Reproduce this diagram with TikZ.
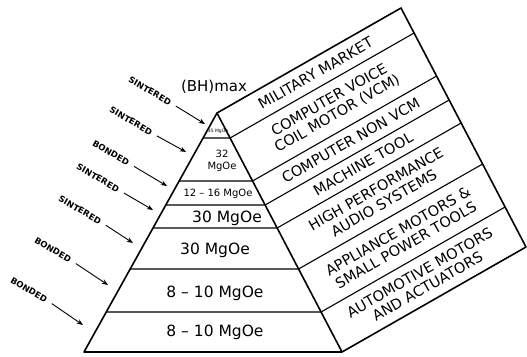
\documentclass[tikz,border=0pt]{standalone}
\usepackage{fontspec}
\setmainfont{DejaVu Sans}
\usetikzlibrary{arrows.meta,calc}

\begin{document}
\begin{tikzpicture}[
  x=1pt, y=-1pt,
  outline/.style={line width=1.6pt, line join=round},
  tier/.style={line width=1.1pt},
  grade/.style={font=\fontsize{15.5}{16}\selectfont, inner sep=0pt},
  smallgrade/.style={font=\fontsize{10}{12.5}\selectfont, inner sep=0pt, align=center},
  market/.style={font=\fontsize{14.5}{16}\selectfont, rotate=29.7, align=center, inner sep=0pt},
  method/.style={font=\bfseries\fontsize{8.5}{10}\selectfont, rotate=-30, inner sep=1pt},
  arrow/.style={-{Stealth[length=2.2mm,width=1.7mm]}, line width=0.9pt, shorten <=5pt}
]
\useasboundingbox (0,0) rectangle (527,356);

% pyramid and market panel
\coordinate (apex) at (217,113);
\coordinate (bl) at (84,352);
\coordinate (br) at (342,352);
\coordinate (tr) at (401,8);
\coordinate (fr) at (526,247);

\draw[outline] (bl) -- (apex) -- (br) -- cycle;
\draw[outline] (apex) -- (tr) -- (fr) -- (br);

% tiers, carried on into the panel
\draw[tier] ($(apex)!0.1046!(bl)$) -- ($(apex)!0.1046!(br)$) -- ($(tr)!0.1046!(fr)$);
\draw[tier] ($(apex)!0.2845!(bl)$) -- ($(apex)!0.2845!(br)$) -- ($(tr)!0.2845!(fr)$);
\draw[tier] ($(apex)!0.3849!(bl)$) -- ($(apex)!0.3849!(br)$) -- ($(tr)!0.3849!(fr)$);
\draw[tier] ($(apex)!0.4812!(bl)$) -- ($(apex)!0.4812!(br)$) -- ($(tr)!0.4812!(fr)$);
\draw[tier] ($(apex)!0.6527!(bl)$) -- ($(apex)!0.6527!(br)$) -- ($(tr)!0.6527!(fr)$);
\draw[tier] ($(apex)!0.8326!(bl)$) -- ($(apex)!0.8326!(br)$) -- ($(tr)!0.8326!(fr)$);

\node[font=\fontsize{15}{16}\selectfont] (bhmax) at (214,87) {(BH)max};

% energy products
\node[font=\fontsize{4.5}{5}\selectfont, inner sep=0pt] (g35) at (218,131) {35 MgOe};
\node[smallgrade] (g32) at (222,161) {32\\MgOe};
\node[smallgrade] (g1216) at (218,194) {12 -- 16 MgOe};
\node[grade] (g30a) at (227,218) {30 MgOe};
\node[grade] (g30b) at (215,250) {30 MgOe};
\node[grade] (g810a) at (215,293) {8 -- 10 MgOe};
\node[grade] (g810b) at (215,332) {8 -- 10 MgOe};

% markets
\node[market] (military) at ($(apex)!0.0523!(br) + (92,-52.5)$) {MILITARY MARKET};
\node[market] (vcm) at ($(apex)!0.1946!(br) + (92,-52.5)$) {COMPUTER VOICE\\COIL MOTOR (VCM)};
\node[market] (nonvcm) at ($(apex)!0.3347!(br) + (92,-52.5)$) {COMPUTER NON VCM};
\node[market] (machine) at ($(apex)!0.4331!(br) + (92,-52.5)$) {MACHINE TOOL};
\node[market] (audio) at ($(apex)!0.5669!(br) + (92,-52.5)$) {HIGH PERFORMANCE\\AUDIO SYSTEMS};
\node[market] (appliance) at ($(apex)!0.7427!(br) + (92,-52.5)$) {APPLIANCE MOTORS \&\\SMALL POWER TOOLS};
\node[market] (auto) at ($(apex)!0.9163!(br) + (92,-52.5)$) {AUTOMOTIVE MOTORS\\AND ACTUATORS};

% sintered / bonded
\node[method] (m1) at (150,91) {SINTERED};
\node[method] (m2) at (131,121) {SINTERED};
\node[method] (m3) at (111,153) {BONDED};
\node[method] (m4) at (98,178) {SINTERED};
\node[method] (m5) at (80,210) {SINTERED};
\node[method] (m6) at (53,250) {BONDED};
\node[method] (m7) at (29,290) {BONDED};

\coordinate (h1) at (205,124);
\coordinate (h2) at (186,152);
\coordinate (h3) at (167,186);
\coordinate (h4) at (153,210);
\coordinate (h5) at (133,243);
\coordinate (h6) at (108,285);
\coordinate (h7) at (83,325);

\draw[arrow] (m1.east) -- (h1);
\draw[arrow] (m2.east) -- (h2);
\draw[arrow] (m3.east) -- (h3);
\draw[arrow] (m4.east) -- (h4);
\draw[arrow] (m5.east) -- (h5);
\draw[arrow] (m6.east) -- (h6);
\draw[arrow] (m7.east) -- (h7);
\end{tikzpicture}
\end{document}
